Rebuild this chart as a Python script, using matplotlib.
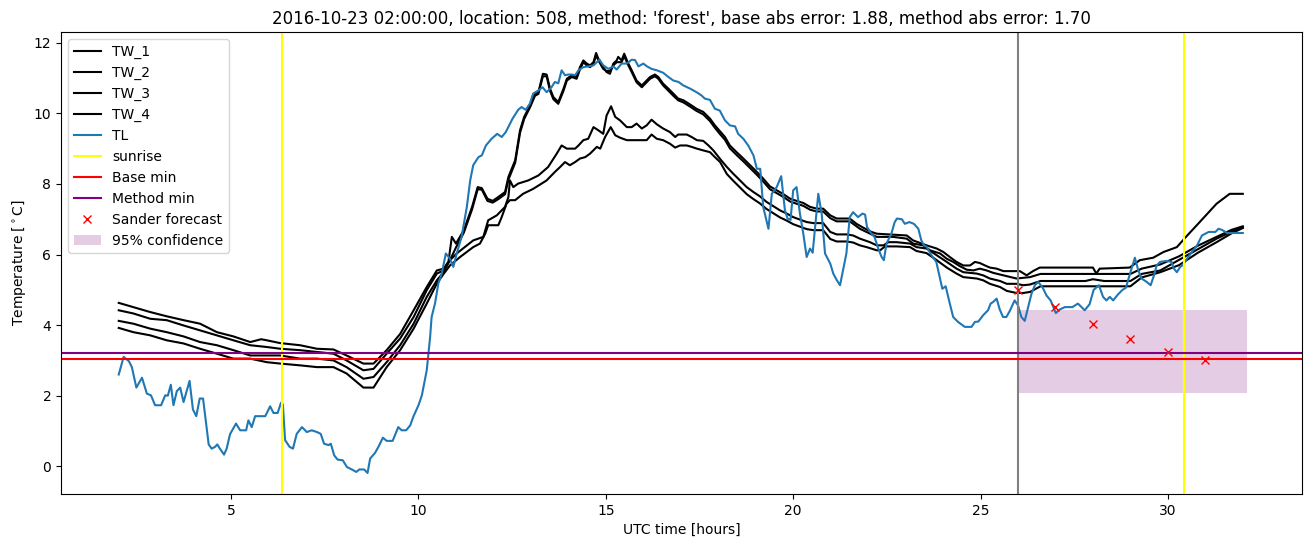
import numpy as np
import matplotlib
matplotlib.use('Agg')
import matplotlib.pyplot as plt

# --- data (hours UTC, deg C) ---
tl_t = [2.00, 2.13, 2.27, 2.35, 2.47, 2.62, 2.75, 2.86, 2.97, 3.13, 3.24, 3.31, 3.39, 3.46, 3.55, 3.64,
        3.73, 3.89, 3.98, 4.07, 4.16, 4.25, 4.40, 4.48, 4.57, 4.63, 4.70, 4.81, 4.88, 4.97, 5.13, 5.24,
        5.40, 5.46, 5.55, 5.64, 5.91, 6.04, 6.13, 6.24, 6.33, 6.38, 6.44, 6.56, 6.65, 6.75, 6.89, 7.02,
        7.15, 7.29, 7.39, 7.48, 7.60, 7.66, 7.75, 7.84, 7.98, 8.09, 8.22, 8.34, 8.42, 8.55, 8.64, 8.71,
        8.84, 8.93, 9.05, 9.15, 9.31, 9.46, 9.55, 9.67, 9.78, 9.86, 10.00, 10.09, 10.22, 10.31, 10.35,
        10.44, 10.53, 10.62, 10.73, 10.84, 10.93, 11.02, 11.15, 11.29, 11.38, 11.46, 11.60, 11.69, 11.80,
        11.95, 12.10, 12.22, 12.33, 12.51, 12.66, 12.75, 12.86, 12.97, 13.06, 13.20, 13.31, 13.42, 13.55,
        13.64, 13.73, 13.82, 13.91, 14.00, 14.10, 14.18, 14.27, 14.40, 14.53, 14.67, 14.83, 14.93, 15.07,
        15.20, 15.29, 15.42, 15.56, 15.69, 15.78, 15.87, 16.00, 16.10, 16.22, 16.36, 16.53, 16.67, 16.80,
        16.94, 17.07, 17.25, 17.42, 17.55, 17.64, 17.78, 17.91, 18.04, 18.18, 18.31, 18.45, 18.53, 18.67,
        18.80, 18.94, 19.03, 19.12, 19.20, 19.34, 19.43, 19.56, 19.68, 19.78, 19.85, 19.93, 20.00, 20.09,
        20.18, 20.27, 20.36, 20.45, 20.52, 20.67, 20.76, 20.85, 20.99, 21.07, 21.16, 21.25, 21.33, 21.42,
        21.51, 21.60, 21.73, 21.85, 21.92, 21.97, 22.09, 22.17, 22.27, 22.36, 22.42, 22.49, 22.62, 22.71,
        22.77, 22.90, 22.98, 23.10, 23.22, 23.34, 23.42, 23.49, 23.56, 23.69, 23.82, 23.91, 23.98, 24.07,
        24.18, 24.27, 24.40, 24.58, 24.76, 24.85, 24.94, 25.07, 25.20, 25.27, 25.33, 25.43, 25.51, 25.60,
        25.69, 25.78, 25.91, 26.00, 26.09, 26.18, 26.27, 26.36, 26.45, 26.54, 26.65, 26.76, 26.87, 27.01,
        27.11, 27.25, 27.45, 27.60, 27.78, 27.91, 28.02, 28.16, 28.27, 28.36, 28.45, 28.54, 28.67, 28.79,
        28.88, 28.99, 29.12, 29.21, 29.30, 29.44, 29.54, 29.63, 29.70, 29.79, 29.97, 30.10, 30.16, 30.24,
        30.33, 30.40, 30.51, 30.64, 30.78, 30.91, 31.09, 31.27, 31.35, 31.44, 31.58, 31.76, 32.00]
tl_v = [2.60, 3.10, 2.98, 2.81, 2.23, 2.51, 2.06, 2.01, 1.73, 1.73, 2.01, 2.00, 2.31, 1.73, 2.13, 2.23,
        1.82, 2.42, 1.61, 1.42, 1.92, 1.92, 0.62, 0.50, 0.55, 0.62, 0.50, 0.33, 0.50, 0.91, 1.21, 1.02,
        1.02, 1.30, 1.11, 1.42, 1.42, 1.70, 1.51, 1.51, 1.80, 1.75, 0.74, 0.55, 0.50, 0.92, 1.11, 0.97,
        1.02, 0.97, 0.92, 0.64, 0.60, 0.64, 0.31, 0.19, 0.17, -0.02, -0.09, -0.16, -0.09, -0.09, -0.19, 0.22,
        0.38, 0.55, 0.81, 0.72, 0.72, 1.11, 1.02, 1.02, 1.16, 1.40, 1.73, 2.01, 2.72, 3.66, 4.23,
        4.61, 5.18, 5.46, 6.03, 5.88, 5.65, 6.03, 6.50, 7.35, 8.10, 8.53, 8.76, 8.81, 9.09,
        9.28, 9.42, 9.33, 9.47, 9.85, 10.10, 10.18, 10.10, 10.27, 10.56, 10.65, 10.74, 10.60, 10.74,
        10.89, 10.85, 11.22, 11.08, 11.10, 11.10, 11.08, 11.22, 11.31, 11.33, 11.36, 11.52, 11.36, 11.26,
        11.33, 11.24, 11.41, 11.41, 11.52, 11.51, 11.33, 11.41, 11.33, 11.26, 11.22, 11.15, 11.03, 10.93,
        10.89, 10.79, 10.70, 10.60, 10.51, 10.42, 10.38, 10.13, 10.08, 9.80, 9.66, 9.63, 9.42, 9.28,
        9.09, 8.81, 8.43, 8.43, 7.35, 6.73, 7.72, 7.91, 8.22, 7.25, 7.02, 6.98, 7.82, 7.91,
        7.16, 6.59, 5.93, 6.17, 6.05, 7.72, 7.16, 6.03, 5.74, 5.46, 5.28, 5.13, 5.55, 6.03,
        7.06, 7.20, 7.06, 7.16, 7.13, 6.78, 6.59, 6.50, 6.17, 5.93, 5.84, 6.31, 6.59, 6.92,
        7.02, 7.00, 6.87, 6.92, 6.87, 6.73, 6.40, 6.26, 6.22, 5.98, 5.79, 5.36, 5.03, 5.10,
        4.61, 4.23, 4.09, 3.95, 3.95, 4.09, 4.10, 4.28, 4.42, 4.61, 4.65, 4.75, 4.45, 4.23,
        4.23, 4.40, 4.70, 4.56, 4.23, 4.12, 4.51, 4.89, 5.13, 5.22, 5.08, 4.84, 4.70, 4.34,
        4.44, 4.51, 4.51, 4.61, 4.42, 4.59, 5.00, 5.13, 4.80, 4.70, 4.80, 4.70, 4.87, 5.00,
        5.06, 5.46, 5.91, 5.55, 5.32, 5.22, 5.13, 5.41, 5.69, 5.79, 5.82, 5.79, 5.60, 5.50,
        5.65, 5.70, 5.88, 6.07, 6.26, 6.54, 6.64, 6.64, 6.73, 6.70, 6.61, 6.61, 6.61]

tw1_t = [2.00, 2.39, 2.84, 3.28, 3.73, 4.17, 4.62, 5.06, 5.51, 5.80, 5.95, 6.31, 6.84, 7.29, 7.73, 8.08,
         8.53, 8.80, 9.15, 9.51, 9.87, 10.22, 10.49, 10.67, 10.80, 10.89, 11.00, 11.21, 11.43, 11.58, 11.69,
         11.84, 11.98, 12.13, 12.31, 12.40, 12.58, 12.71, 12.82, 12.98, 13.11, 13.20, 13.32, 13.42, 13.51,
         13.60, 13.73, 13.87, 13.96, 14.09, 14.22, 14.31, 14.40, 14.49, 14.58, 14.67, 14.74, 14.80, 14.93,
         15.02, 15.11, 15.20, 15.29, 15.33, 15.42, 15.49, 15.60, 15.69, 15.82, 15.96, 16.09, 16.18, 16.31,
         16.40, 16.53, 16.67, 16.80, 16.93, 17.07, 17.25, 17.42, 17.60, 17.78, 17.91, 18.04, 18.18, 18.31,
         18.49, 18.67, 18.85, 19.03, 19.20, 19.38, 19.56, 19.74, 19.92, 20.09, 20.27, 20.45, 20.63, 20.80,
         20.99, 21.16, 21.51, 21.69, 21.87, 22.09, 22.23, 23.03, 23.20, 23.56, 23.83, 24.01, 24.18, 24.36,
         24.54, 24.72, 24.85, 24.98, 25.12, 25.25, 25.43, 25.61, 25.96, 26.05, 26.23, 26.40, 26.58, 28.00,
         28.09, 28.18, 28.98, 29.25, 29.61, 29.88, 30.24, 30.50, 30.85, 31.30, 31.65, 32.00]
tw1_v = [4.63, 4.51, 4.37, 4.25, 4.14, 4.04, 3.80, 3.68, 3.52, 3.60, 3.57, 3.49, 3.43, 3.33, 3.31, 3.14,
         2.91, 2.91, 3.29, 3.75, 4.42, 5.08, 5.55, 5.60, 5.80, 6.50, 6.31, 6.69, 7.35, 7.91, 7.88,
         7.58, 7.52, 7.63, 7.77, 8.20, 8.67, 9.52, 9.90, 10.23, 10.56, 10.60, 11.12, 11.10, 10.70,
         10.46, 10.32, 10.70, 10.98, 11.08, 11.03, 11.31, 11.50, 11.41, 11.36, 11.45, 11.71, 11.55, 11.31,
         11.17, 11.12, 11.41, 11.50, 11.60, 11.50, 11.69, 11.41, 11.22, 10.93, 10.79, 10.93, 11.03, 11.10,
         11.03, 10.84, 10.70, 10.56, 10.42, 10.37, 10.25, 10.13, 10.04, 9.85, 9.66, 9.50, 9.33, 9.09,
         8.90, 8.72, 8.53, 8.34, 8.15, 7.93, 7.82, 7.71, 7.58, 7.52, 7.46, 7.35, 7.30, 7.30,
         7.11, 7.02, 7.02, 6.87, 6.76, 6.64, 6.59, 6.54, 6.40, 6.26, 6.17, 6.07, 5.93, 5.79,
         5.69, 5.69, 5.79, 5.76, 5.69, 5.63, 5.60, 5.53, 5.53, 5.53, 5.41, 5.53, 5.63, 5.63,
         5.46, 5.60, 5.63, 5.84, 5.91, 6.07, 6.21, 6.52, 6.92, 7.44, 7.72, 7.72]

tw2_t = [2.00, 2.39, 2.84, 3.28, 3.73, 4.17, 4.62, 5.06, 5.51, 5.95, 6.31, 6.84, 7.29, 7.73, 8.08, 8.53,
         8.80, 9.15, 9.51, 9.87, 10.22, 10.49, 10.67, 10.89, 11.00, 11.21, 11.43, 11.58, 11.69, 11.84,
         11.98, 12.13, 12.31, 12.40, 12.58, 12.71, 12.82, 12.98, 13.11, 13.20, 13.32, 13.42, 13.51, 13.60,
         13.73, 13.87, 13.96, 14.09, 14.22, 14.31, 14.40, 14.49, 14.58, 14.67, 14.74, 14.80, 14.93, 15.02,
         15.11, 15.20, 15.29, 15.42, 15.49, 15.60, 15.69, 15.82, 15.96, 16.09, 16.18, 16.31, 16.40, 16.53,
         16.67, 16.80, 16.93, 17.07, 17.25, 17.42, 17.60, 17.78, 17.91, 18.04, 18.18, 18.31, 18.49, 18.67,
         18.85, 19.03, 19.20, 19.38, 19.56, 19.74, 19.92, 20.09, 20.27, 20.45, 20.63, 20.80, 20.99, 21.16,
         21.51, 21.78, 22.05, 22.23, 22.67, 23.03, 23.20, 23.47, 23.65, 23.92, 24.10, 24.27, 24.45, 24.63,
         24.81, 24.98, 25.16, 25.34, 25.61, 25.96, 26.32, 26.60, 28.00, 29.00, 29.30, 29.80, 30.30, 30.80,
         31.30, 31.70, 32.00]
tw2_v = [4.42, 4.33, 4.18, 4.14, 3.99, 3.85, 3.71, 3.57, 3.43, 3.38, 3.33, 3.29, 3.24, 3.19, 3.00, 2.72,
         2.76, 3.19, 3.62, 4.23, 4.99, 5.46, 5.55, 5.95, 6.20, 6.62, 7.28, 7.85, 7.84,
         7.52, 7.47, 7.57, 7.71, 8.12, 8.60, 9.45, 9.84, 10.18, 10.50, 10.55, 11.05, 11.05, 10.64, 10.40,
         10.27, 10.64, 10.93, 11.03, 10.98, 11.25, 11.45, 11.36, 11.31, 11.40, 11.65, 11.50, 11.26, 11.20,
         11.20, 11.36, 11.45, 11.45, 11.62, 11.36, 11.17, 10.88, 10.74, 10.88, 10.98, 11.05, 10.98, 10.79,
         10.64, 10.50, 10.37, 10.31, 10.19, 10.07, 9.97, 9.78, 9.59, 9.42, 9.25, 9.01, 8.82, 8.64,
         8.45, 8.26, 8.07, 7.85, 7.74, 7.63, 7.50, 7.44, 7.38, 7.27, 7.22, 7.22, 7.03, 6.94,
         6.94, 6.73, 6.59, 6.50, 6.50, 6.45, 6.31, 6.26, 6.12, 6.03, 5.88, 5.79, 5.67, 5.57,
         5.55, 5.60, 5.55, 5.48, 5.41, 5.32, 5.36, 5.45, 5.45, 5.45, 5.60, 5.72, 5.95, 6.25,
         6.50, 6.70, 6.80]

tw3_t = [2.00, 2.39, 2.84, 3.28, 3.73, 4.17, 4.62, 5.06, 5.51, 5.95, 6.31, 6.84, 7.29, 7.73, 8.08, 8.53,
         8.80, 9.15, 9.51, 9.87, 10.22, 10.49, 10.67, 10.84, 11.02, 11.46, 11.73, 11.86, 12.09, 12.31,
         12.40, 12.44, 12.53, 12.66, 12.93, 13.20, 13.46, 13.69, 13.82, 13.96, 14.18, 14.27, 14.40, 14.53,
         14.67, 14.80, 14.93, 15.02, 15.14, 15.25, 15.38, 15.56, 15.69, 15.82, 15.96, 16.09, 16.22, 16.36,
         16.53, 16.71, 16.85, 16.93, 17.16, 17.29, 17.43, 17.60, 17.74, 17.87, 18.04, 18.23, 18.40, 18.58,
         18.76, 18.94, 19.11, 19.29, 19.47, 19.65, 19.83, 20.00, 20.18, 20.36, 20.54, 20.80, 20.99, 21.16,
         21.43, 21.60, 21.78, 22.05, 22.23, 22.41, 22.54, 22.76, 23.12, 23.29, 23.56, 23.83, 24.10, 24.36,
         24.54, 24.90, 25.07, 25.25, 25.52, 25.70, 25.96, 26.14, 26.32, 26.60, 27.80, 28.00, 28.30, 29.00,
         29.30, 29.80, 30.30, 30.80, 31.30, 31.70, 32.00]
tw3_v = [4.12, 4.04, 3.90, 3.80, 3.68, 3.52, 3.43, 3.29, 3.14, 3.14, 3.14, 3.05, 3.05, 3.00, 2.81, 2.48,
         2.53, 2.95, 3.43, 4.04, 4.80, 5.27, 5.50, 5.84, 6.03, 6.40, 6.50, 6.97, 7.11, 7.35,
         7.63, 8.10, 7.91, 8.01, 8.10, 8.24, 8.48, 8.86, 9.09, 9.00, 9.00, 9.09, 9.24, 9.28,
         9.61, 9.52, 9.42, 9.94, 10.20, 9.90, 9.80, 9.61, 9.61, 9.71, 9.57, 9.66, 9.82, 9.69,
         9.57, 9.47, 9.33, 9.40, 9.40, 9.33, 9.24, 9.22, 9.09, 8.95, 8.72, 8.48, 8.29, 8.10,
         7.91, 7.77, 7.65, 7.49, 7.37, 7.25, 7.16, 7.06, 6.99, 6.92, 6.89, 6.89, 6.64, 6.57,
         6.57, 6.54, 6.45, 6.35, 6.26, 6.26, 6.35, 6.35, 6.31, 6.21, 6.17, 5.98, 5.79, 5.60,
         5.50, 5.46, 5.41, 5.32, 5.25, 5.17, 5.17, 5.13, 5.15, 5.25, 5.25, 5.30, 5.25, 5.25,
         5.45, 5.55, 5.85, 6.15, 6.45, 6.65, 6.77]

tw4_t = [2.00, 2.39, 2.84, 3.28, 3.73, 4.17, 4.62, 5.06, 5.51, 5.95, 6.31, 6.84, 7.29, 7.73, 8.08, 8.53,
         8.80, 9.15, 9.51, 9.87, 10.22, 10.49, 10.67, 10.84, 11.11, 11.46, 11.64, 11.78, 11.86, 12.13,
         12.22, 12.35, 12.44, 12.58, 12.79, 13.06, 13.42, 13.64, 13.78, 13.91, 14.04, 14.18, 14.31, 14.45,
         14.58, 14.76, 14.85, 14.98, 15.13, 15.25, 15.38, 15.56, 16.09, 16.22, 16.36, 16.53, 16.71, 16.85,
         16.98, 17.16, 17.29, 17.43, 17.60, 17.78, 17.91, 18.05, 18.23, 18.40, 18.58, 18.76, 18.94, 19.11,
         19.29, 19.47, 19.65, 19.83, 20.00, 20.18, 20.36, 20.54, 20.80, 20.99, 21.16, 21.43, 21.60, 21.78,
         21.96, 22.23, 22.32, 22.45, 22.76, 23.12, 23.29, 23.56, 23.83, 24.10, 24.36, 24.54, 24.90, 25.07,
         25.25, 25.52, 25.70, 25.96, 26.14, 26.32, 26.60, 29.00, 29.30, 29.80, 30.30, 30.80, 31.30, 31.70,
         32.00]
tw4_v = [3.92, 3.80, 3.71, 3.57, 3.48, 3.33, 3.19, 3.05, 3.05, 2.95, 2.91, 2.86, 2.81, 2.81, 2.63, 2.23,
         2.23, 2.81, 3.29, 3.90, 4.61, 5.18, 5.45, 5.69, 5.93, 6.21, 6.31, 6.59, 6.83, 6.83,
         7.06, 7.44, 7.54, 7.54, 7.72, 7.86, 8.10, 8.34, 8.48, 8.62, 8.53, 8.62, 8.72, 8.76,
         8.86, 9.05, 9.00, 9.33, 9.61, 9.38, 9.31, 9.24, 9.24, 9.40, 9.28, 9.24, 9.14, 9.03,
         9.09, 9.09, 9.05, 9.00, 8.95, 8.90, 8.76, 8.62, 8.28, 8.09, 7.90, 7.71, 7.57, 7.45,
         7.29, 7.17, 7.05, 6.96, 6.86, 6.79, 6.72, 6.69, 6.69, 6.44, 6.37, 6.37, 6.34, 6.26,
         6.21, 6.12, 6.12, 6.23, 6.23, 6.21, 6.10, 6.04, 5.84, 5.63, 5.46, 5.36, 5.32, 5.27,
         5.17, 5.08, 4.97, 4.91, 4.91, 4.94, 5.10, 5.10, 5.35, 5.50, 5.70, 6.05, 6.35, 6.60,
         6.75]

sunrise = [6.37, 30.42]
forecast_start = 26.0
base_min = 3.04
method_min = 3.21
sander_t = [26, 27, 28, 29, 30, 31]
sander_v = [5.00, 4.50, 4.02, 3.62, 3.25, 3.02]
conf_t = [26.0, 32.1]
conf_low = [2.08, 2.08]
conf_high = [4.42, 4.42]

title = "2016-10-23 02:00:00, location: 508, method: 'forest', base abs error: 1.88, method abs error: 1.70"


def main():
    fig = plt.figure(figsize=(13.1, 5.47), dpi=100)
    ax = fig.add_axes([0.0466, 0.0969, 0.9473, 0.8446])

    ax.plot(tw1_t, tw1_v, color='black', label='TW_1')
    ax.plot(tw2_t, tw2_v, color='black', label='TW_2')
    ax.plot(tw3_t, tw3_v, color='black', label='TW_3')
    ax.plot(tw4_t, tw4_v, color='black', label='TW_4')
    ax.plot(tl_t, tl_v, color='C0', label='TL')

    ax.axvline(sunrise[0], color='yellow', label='sunrise')
    ax.axvline(sunrise[1], color='yellow')
    ax.axvline(forecast_start, color='grey')
    ax.axhline(base_min, color='red', label='Base min')
    ax.axhline(method_min, color='purple', label='Method min')
    ax.plot(sander_t, sander_v, 'x', color='red', label='Sander forecast')
    ax.fill_between(conf_t, conf_low, conf_high, color='purple', alpha=0.2,
                    linewidth=0, label='95% confidence')

    ax.set_xlim(0.46, 33.58)
    ax.set_title(title)
    ax.set_xlabel('UTC time [hours]')
    ax.set_ylabel(r'Temperature [$^\circ$C]')
    ax.legend(loc='upper left')

    fig.savefig('out.png', dpi=100)


if __name__ == '__main__':
    main()
